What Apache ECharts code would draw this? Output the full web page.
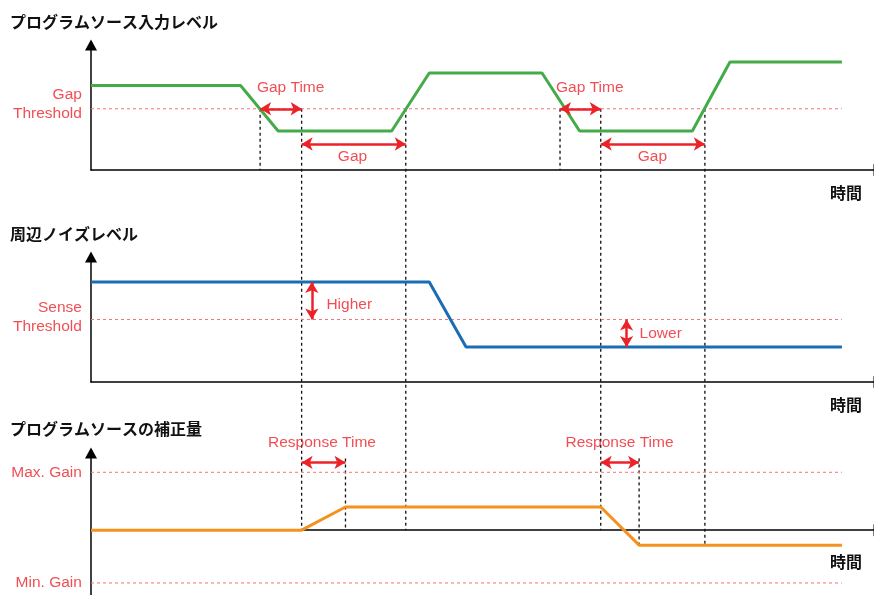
<!DOCTYPE html>
<html>
<head>
<meta charset="utf-8">
<script src="https://cdn.jsdelivr.net/npm/echarts@6/dist/echarts.min.js"></script>
<style>
  html, body { margin: 0; padding: 0; background: #fff; }
  #chart { width: 874px; height: 595px; }
</style>
</head>
<body>
<div id="chart"></div>
<script>
// time runs 0..100 in every panel, levels are arbitrary units
const panelTitles = ['プログラムソース入力レベル', '周辺ノイズレベル', 'プログラムソースの補正量'];
const timeName = '時間';

const inputLevel = [[0, 67.6], [19.1, 67.6], [23.9, 31.2], [38.4, 31.2], [43.2, 77.6], [57.6, 77.6],
  [62.4, 31.2], [76.8, 31.2], [81.6, 86.4], [95.9, 86.4]];
const noiseLevel = [[0, 80], [43.2, 80], [47.9, 28], [95.9, 28]];
const gainLevel = [[0, 0], [26.9, 0], [32.5, 30], [65.1, 30], [70, -19.4], [95.9, -19.4]];

const lineEnd = 95.9;
const gapThreshold = 49;
const senseThreshold = 50;
const maxGain = 75;
const minGain = -68.4;

// [from, to] at a level
const gapTimeArrows = [[21.6, 26.9], [59.9, 65.1]];
const gapArrows = [[26.9, 40.2], [65.1, 78.4]];
const gapArrowLevel = 20.8;
const noiseArrows = [[28.2, 80, 50], [68.4, 50, 28]];
const responseArrows = [[26.9, 32.5], [65.1, 70]];
const responseArrowLevel = 87.8;

// [text, time, level]
const inputNotes = [['Gap Time', 25.5, 65.6], ['Gap', 33.4, 10.4], ['Gap Time', 63.7, 65.6], ['Gap', 71.7, 10.4]];
const noiseNotes = [['Higher', 30, 61.6], ['Lower', 70, 38.4]];
const gainNotes = [['Response Time', 29.5, 113.6], ['Response Time', 67.5, 113.6]];
// [text, panel, level]
const levelNames = [['Gap\nThreshold', 0, 52.4], ['Sense\nThreshold', 1, 52], ['Max. Gain', 2, maxGain], ['Min. Gain', 2, minGain]];

// dotted guides: [time, fromPanel, fromLevel, toPanel, toLevel]
const guides = [
  [21.6, 0, gapThreshold, 0, 0],
  [26.9, 0, gapThreshold, 2, 0],
  [32.5, 2, 93, 2, 0],
  [40.2, 0, gapThreshold, 2, 0],
  [59.9, 0, gapThreshold, 0, 0],
  [65.1, 0, gapThreshold, 2, 0],
  [70, 2, 93, 2, -19.4],
  [78.4, 0, gapThreshold, 2, -19.4]
];

const RED = '#ec2228';
const LATIN = '"Liberation Sans", Arial, sans-serif';
const CJK = '"Noto Sans CJK JP", sans-serif';

const chart = echarts.init(document.getElementById('chart'));

const axisLineStyle = { color: '#000', width: 1.5 };

const timeNamePad = [15, 15, 24];

const xAxes = [0, 1, 2].map(i => ({
  type: 'value', gridIndex: i, min: 0, max: 100,
  axisLine: { symbol: ['none', 'triangle'], symbolSize: [12, 11], symbolOffset: [0, 5], lineStyle: axisLineStyle },
  axisTick: { show: false }, axisLabel: { show: false }, splitLine: { show: false },
  name: timeName, nameLocation: 'end', nameGap: -12,
  nameTextStyle: {
    fontFamily: CJK, fontSize: 16, fontWeight: 'bold', color: '#111',
    align: 'right', verticalAlign: 'top', padding: [timeNamePad[i], 0, 0, 0]
  }
}));

const yRanges = [[0, 100], [0, 100], [-84, 100]];
const yAxes = yRanges.map((r, i) => ({
  type: 'value', gridIndex: i, min: r[0], max: r[1],
  axisLine: { symbol: ['none', 'triangle'], symbolSize: [12, 11], lineStyle: axisLineStyle },
  axisTick: { show: false }, axisLabel: { show: false }, splitLine: { show: false }
}));

function levelLine(i, level) {
  return {
    type: 'line', xAxisIndex: i, yAxisIndex: i, silent: true, symbol: 'none', z: 1,
    data: [[0, level], [lineEnd, level]],
    lineStyle: { color: '#f37575', width: 1, type: [3, 3] }
  };
}

function arrows(pairs) {
  return {
    silent: true, animation: false,
    symbol: ['arrow', 'arrow'], symbolSize: [10, 11],
    label: { show: false },
    lineStyle: { color: RED, width: 2.5, type: 'solid' },
    emphasis: { disabled: true },
    data: pairs
  };
}

function notes(i, list, position) {
  return {
    type: 'scatter', xAxisIndex: i, yAxisIndex: i, silent: true, clip: false,
    symbolSize: 1, itemStyle: { color: 'rgba(0,0,0,0)' },
    data: list.map(n => ({ name: n[0], value: [n[1], n[2]] })),
    label: {
      show: true, position: position, distance: 0,
      formatter: p => p.name,
      color: RED, fontFamily: LATIN, fontSize: 15.5, lineHeight: 19
    }
  };
}

const gapThresholdSeries = levelLine(0, gapThreshold);
gapThresholdSeries.markLine = arrows(
  gapTimeArrows.map(a => [{ coord: [a[0], gapThreshold] }, { coord: [a[1], gapThreshold] }])
    .concat(gapArrows.map(a => [{ coord: [a[0], gapArrowLevel] }, { coord: [a[1], gapArrowLevel] }]))
);

const senseSeries = levelLine(1, senseThreshold);
senseSeries.markLine = arrows(noiseArrows.map(a => [{ coord: [a[0], a[1]] }, { coord: [a[0], a[2]] }]));

const maxGainSeries = levelLine(2, maxGain);
maxGainSeries.markLine = arrows(
  responseArrows.map(a => [{ coord: [a[0], responseArrowLevel] }, { coord: [a[1], responseArrowLevel] }])
);

const series = [
  gapThresholdSeries,
  senseSeries,
  maxGainSeries,
  levelLine(2, minGain),
  {
    type: 'line', xAxisIndex: 0, yAxisIndex: 0, symbol: 'none', z: 3,
    data: inputLevel, lineStyle: { color: '#45ab4a', width: 3 }
  },
  {
    type: 'line', xAxisIndex: 1, yAxisIndex: 1, symbol: 'none', z: 3,
    data: noiseLevel, lineStyle: { color: '#1b6db3', width: 3 }
  },
  {
    type: 'line', xAxisIndex: 2, yAxisIndex: 2, symbol: 'none', z: 3,
    data: gainLevel, lineStyle: { color: '#f5921f', width: 3 }
  },
  notes(0, inputNotes, 'inside'),
  notes(1, noiseNotes, 'right'),
  notes(2, gainNotes, 'inside')
];

[0, 1, 2].forEach(i => {
  const list = levelNames.filter(n => n[1] === i).map(n => [n[0], -1.1, n[2]]);
  series.push(notes(i, list, 'left'));
});

const titleTops = [14, 226, 421];

chart.setOption({
  animation: false,
  title: panelTitles.map((t, i) => ({
    text: t, left: 10, top: titleTops[i], padding: 0,
    textStyle: { fontFamily: CJK, fontSize: 16, fontWeight: 'bold', color: '#111' }
  })),
  grid: [
    { left: 91, right: -4, top: 45, height: 125 },
    { left: 91, right: -4, top: 257, height: 125 },
    { left: 91, right: -4, top: 453, bottom: 0 }
  ],
  xAxis: xAxes,
  yAxis: yAxes,
  series: series
});

// vertical guides cross panels, so place them from each panel's own scale
const guideLines = guides.map(g => {
  const a = chart.convertToPixel({ gridIndex: g[1] }, [g[0], g[2]]);
  const b = chart.convertToPixel({ gridIndex: g[3] }, [g[0], g[4]]);
  return {
    type: 'line', silent: true, z: 1,
    shape: { x1: a[0], y1: a[1], x2: b[0], y2: b[1] },
    style: { stroke: '#111', lineWidth: 1.3, lineDash: [3, 3] }
  };
});
chart.setOption({ graphic: guideLines });
</script>
</body>
</html>
